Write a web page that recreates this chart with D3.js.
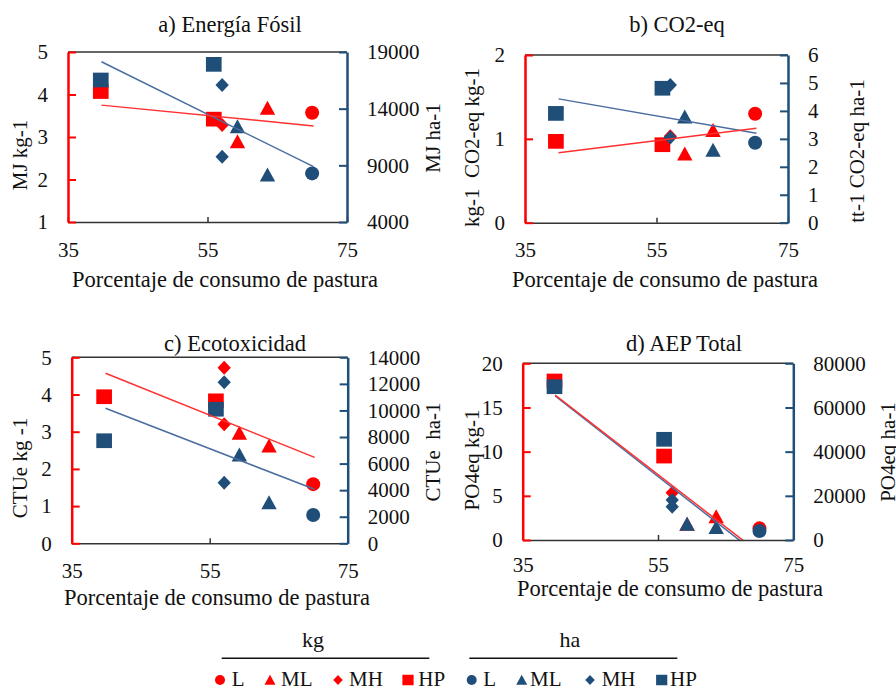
<!DOCTYPE html>
<html>
<head>
<meta charset="utf-8">
<script src="https://cdn.jsdelivr.net/npm/d3@7"></script>
<style>
    body { margin: 0; background: #fff; }
    svg { display: block; font-family: "Liberation Serif", "Times New Roman", serif; }
</style>
</head>
<body>
<div id="chart"></div>
<script>
// pasture consumption (%) and production system of every point
const pasture = [39.7, 55.9, 57.1, 57.1, 59.3, 63.6, 70.0];
const system = ['HP', 'HP', 'MH', 'MH', 'ML', 'ML', 'L'];
const systems = ['L', 'ML', 'MH', 'HP'];

// a) fossil energy
const fosilKg = [4.07, 3.42, 3.28, null, 2.89, 3.68, 3.57];
const fosilHa = [16530, 17910, 16090, 9760, 12410, 8150, 8290];
const fosilTrendKg = [[39.8, 3.75], [70.2, 3.26]];
const fosilTrendHa = [[39.8, 18140], [70.2, 8880]];

// b) CO2-eq
const co2Kg = [0.97, 0.93, 1.03, null, 0.82, 1.10, 1.30];
const co2Ha = [3.91, 4.81, 4.93, 3.05, 3.79, 2.60, 2.86];
const co2TrendKg = [[40.1, 0.835], [70.2, 1.126]];
const co2TrendHa = [[40.1, 4.43], [70.2, 3.20]];

// c) ecotoxicity
const ecoKg = [3.94, 3.83, 4.72, 3.20, 2.96, 2.62, 1.59];
const ecoHa = [7720, 10090, 12120, 4560, 6650, 3060, 2130];
const ecoTrendKg = [[39.9, 4.57], [70.2, 2.31]];
const ecoTrendHa = [[39.9, 10160], [70.2, 4065]];

// d) total AEP
const aepKg = [18.0, 9.5, 5.36, null, 1.8, 2.64, 1.32];
const aepHa = [69400, 45590, 18110, 15080, 7240, 5750, 4080];
const aepTrendKg = [[39.8, 16.4], [70.2, -1.6]];
const aepTrendHa = [[39.8, 65200], [70.2, -7670]];

const xTicks = [35, 55, 75];

const RED = '#ff0000';
const BLUE = '#1f4e79';
const RED_LINE = '#ff3030';
const BLUE_LINE = '#4a6da0';
const FONT = 21;       // ticks, axis titles, legend
const TITLE_FONT = 22.5; // panel titles and x titles

const panels = [
    { title: 'a) Energía Fósil', kg: fosilKg, ha: fosilHa, tKg: fosilTrendKg, tHa: fosilTrendHa,
      yL: [1, 5], yLTicks: [1, 2, 3, 4, 5], yR: [4000, 19000], yRTicks: [4000, 9000, 14000, 19000],
      box: [68, 347, 52, 222], titleAt: [230, 31.7], xTitleAt: [225, 287], xPad: 20,
      lTitle: 'MJ kg-1', lAt: [20, 155], rTitle: 'MJ ha-1', rAt: [433, 138] },
    { title: 'b) CO2-eq', kg: co2Kg, ha: co2Ha, tKg: co2TrendKg, tHa: co2TrendHa,
      yL: [0, 2], yLTicks: [0, 1, 2], yR: [0, 6], yRTicks: [0, 1, 2, 3, 4, 5, 6],
      box: [525, 788, 55, 222.7], titleAt: [677, 32], xTitleAt: [665, 287], xPad: 19,
      lTitle: 'kg-1  CO2-eq kg-1', lAt: [471.7, 147.5], rTitle: 'tt-1 CO2-eq ha-1', rAt: [856.7, 151] },
    { title: 'c) Ecotoxicidad', kg: ecoKg, ha: ecoHa, tKg: ecoTrendKg, tHa: ecoTrendHa,
      yL: [0, 5], yLTicks: [0, 1, 2, 3, 4, 5], yR: [0, 14000], yRTicks: d3.range(0, 14001, 2000),
      box: [71.7, 347.7, 357.3, 543.3], titleAt: [235, 350.7], xTitleAt: [217, 605], xPad: 20,
      lTitle: 'CTUe kg -1', lAt: [20, 468], rTitle: 'CTUe  ha-1', rAt: [433.3, 452] },
    { title: 'd) AEP Total', kg: aepKg, ha: aepHa, tKg: aepTrendKg, tHa: aepTrendHa,
      yL: [0, 20], yLTicks: [0, 5, 10, 15, 20], yR: [0, 80000], yRTicks: d3.range(0, 80001, 20000),
      box: [522.7, 793.3, 363.3, 540], titleAt: [684, 350.7], xTitleAt: [670, 596], xPad: 17,
      lTitle: 'PO4eq kg-1', lAt: [471.7, 460], rTitle: 'PO4eq ha-1', rAt: [887.5, 452] }
];

function markerPath(shape, r) {
    const p = d3.path();
    if (shape === 'L') { p.arc(0, 0, r, 0, 2 * Math.PI); }
    else if (shape === 'ML') { p.moveTo(0, -r * 1.05); p.lineTo(r * 1.1, r * 0.95); p.lineTo(-r * 1.1, r * 0.95); p.closePath(); }
    else if (shape === 'MH') { p.moveTo(0, -r); p.lineTo(r * 0.95, 0); p.lineTo(0, r); p.lineTo(-r * 0.95, 0); p.closePath(); }
    else { p.rect(-r * 1.12, -r * 1.05, r * 2.24, r * 2.1); }
    return p.toString();
}

const svg = d3.select('#chart').append('svg').attr('width', 896).attr('height', 688);

panels.forEach((pn, pi) => {
    const [x0, x1, y0, y1] = pn.box;
    const x = d3.scaleLinear().domain([35, 75]).range([x0, x1]);
    const yL = d3.scaleLinear().domain(pn.yL).range([y1, y0]);
    const yR = d3.scaleLinear().domain(pn.yR).range([y1, y0]);
    const g = svg.append('g');

    svg.append('clipPath').attr('id', 'clip' + pi)
        .append('rect').attr('x', x0).attr('y', y0).attr('width', x1 - x0).attr('height', y1 - y0);

    // top border
    g.append('line').attr('x1', x0).attr('x2', x1).attr('y1', y0).attr('y2', y0)
        .attr('stroke', '#333').attr('stroke-width', 1.5);

    // points: kg series first (red), then ha series (blue), series order L, ML, MH, HP
    const order = d3.range(pasture.length).sort((a, b) => systems.indexOf(system[a]) - systems.indexOf(system[b]));
    [[pn.kg, yL, RED], [pn.ha, yR, BLUE]].forEach(([vals, y, col]) => {
        g.append('g').selectAll('path')
            .data(order.filter(i => vals[i] != null))
            .join('path')
            .attr('d', i => markerPath(system[i], 7))
            .attr('transform', i => `translate(${x(pasture[i])},${y(vals[i])})`)
            .attr('fill', col);
    });

    // trend lines on top of the markers
    const lines = g.append('g').attr('clip-path', `url(#clip${pi})`);
    [[pn.tHa, yR, BLUE_LINE], [pn.tKg, yL, RED_LINE]].forEach(([t, y, col]) => {
        lines.append('path')
            .attr('d', d3.line().x(d => x(d[0])).y(d => y(d[1]))(t))
            .attr('fill', 'none').attr('stroke', col).attr('stroke-width', 1.5);
    });

    // x axis
    const gx = g.append('g').attr('transform', `translate(0,${y1})`)
        .call(d3.axisBottom(x).tickValues(xTicks).tickSizeInner(-5).tickSizeOuter(0).tickPadding(pn.xPad));
    gx.select('.domain').attr('stroke', '#333').attr('stroke-width', 1.5);
    gx.selectAll('.tick line').attr('stroke', '#333').attr('stroke-width', 1.5);

    // left axis (kg)
    const gl = g.append('g').attr('transform', `translate(${x0},0)`)
        .call(d3.axisLeft(yL).tickValues(pn.yLTicks).tickFormat(d3.format('d')).tickSizeInner(-8).tickSizeOuter(0).tickPadding(20));
    gl.select('.domain').attr('stroke', RED).attr('stroke-width', 2.5);
    gl.selectAll('.tick line').attr('stroke', RED).attr('stroke-width', 2);

    // right axis (ha)
    const gr = g.append('g').attr('transform', `translate(${x1},0)`)
        .call(d3.axisRight(yR).tickValues(pn.yRTicks).tickFormat(d3.format('d')).tickSizeInner(-8).tickSizeOuter(0).tickPadding(20));
    gr.select('.domain').attr('stroke', BLUE).attr('stroke-width', 2.5);
    gr.selectAll('.tick line').attr('stroke', BLUE).attr('stroke-width', 2);

    [gx, gl, gr].forEach(a => a.attr('font-family', null).attr('font-size', null));
    g.selectAll('.tick text').attr('fill', '#111').style('font-size', FONT + 'px');

    // titles
    g.append('text').attr('x', pn.titleAt[0]).attr('y', pn.titleAt[1]).attr('text-anchor', 'middle')
        .style('font-size', TITLE_FONT + 'px').attr('fill', '#111').text(pn.title);
    g.append('text').attr('x', pn.xTitleAt[0]).attr('y', pn.xTitleAt[1]).attr('text-anchor', 'middle')
        .style('font-size', TITLE_FONT + 'px').attr('fill', '#111').text('Porcentaje de consumo de pastura');
    [[pn.lTitle, pn.lAt], [pn.rTitle, pn.rAt]].forEach(([t, at]) => {
        g.append('text').attr('transform', `translate(${at[0]},${at[1]}) rotate(-90)`)
            .attr('text-anchor', 'middle').attr('dominant-baseline', 'central')
            .style('font-size', FONT + 'px').style('white-space', 'pre').attr('fill', '#111').text(t);
    });
});

// legend
const legendGroups = [
    { label: 'kg', color: RED, at: 313, line: [221.7, 429.3], items: [220, 270, 338, 408], texts: [231.7, 281, 349, 418.3] },
    { label: 'ha', color: BLUE, at: 570, line: [469.3, 677.3], items: [471.7, 521.7, 590, 661.7], texts: [483.3, 530, 601.7, 670] }
];
const legend = svg.append('g');
legendGroups.forEach(lg => {
    legend.append('text').attr('x', lg.at).attr('y', 647).attr('text-anchor', 'middle')
        .style('font-size', '22px').attr('fill', '#111').text(lg.label);
    legend.append('line').attr('x1', lg.line[0]).attr('x2', lg.line[1]).attr('y1', 658.3).attr('y2', 658.3)
        .attr('stroke', '#111').attr('stroke-width', 1.5);
    systems.forEach((s, i) => {
        legend.append('path').attr('d', markerPath(s, 5)).attr('transform', `translate(${lg.items[i]},680)`).attr('fill', lg.color);
        legend.append('text').attr('x', lg.texts[i]).attr('y', 686).style('font-size', FONT + 'px').attr('fill', '#111').text(s);
    });
});
</script>
</body>
</html>
